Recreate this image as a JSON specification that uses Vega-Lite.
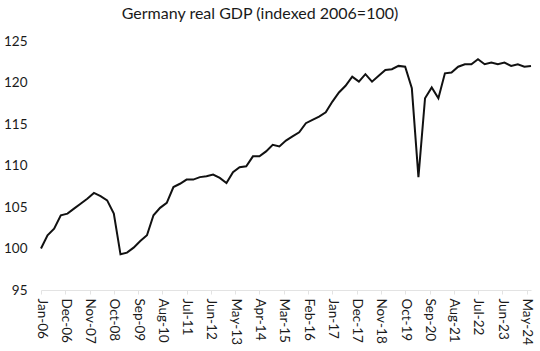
{
  "$schema": "https://vega.github.io/schema/vega-lite/v6.json",
  "width": 490,
  "height": 249,
  "autosize": "none",
  "padding": {"left": 41, "top": 41, "right": 9, "bottom": 61},
  "background": "white",
  "config": {"view": {"stroke": null}, "font": "Lato"},
  "title": {"text": "Germany real GDP (indexed 2006=100)", "font": "Lato", "fontSize": 16, "fontWeight": "normal", "color": "#1a1a1a", "anchor": "middle", "dx": -26, "offset": 12},
  "data": {"values": [
    {"date": "2006-01-01", "gdp": 100.0}, {"date": "2006-04-01", "gdp": 101.6}, {"date": "2006-07-01", "gdp": 102.4}, {"date": "2006-10-01", "gdp": 104.0},
    {"date": "2007-01-01", "gdp": 104.2}, {"date": "2007-04-01", "gdp": 104.8}, {"date": "2007-07-01", "gdp": 105.4}, {"date": "2007-10-01", "gdp": 106.0},
    {"date": "2008-01-01", "gdp": 106.7}, {"date": "2008-04-01", "gdp": 106.3}, {"date": "2008-07-01", "gdp": 105.8}, {"date": "2008-10-01", "gdp": 104.2},
    {"date": "2009-01-01", "gdp": 99.3}, {"date": "2009-04-01", "gdp": 99.5}, {"date": "2009-07-01", "gdp": 100.1}, {"date": "2009-10-01", "gdp": 100.9},
    {"date": "2010-01-01", "gdp": 101.6}, {"date": "2010-04-01", "gdp": 104.0}, {"date": "2010-07-01", "gdp": 104.9}, {"date": "2010-10-01", "gdp": 105.5},
    {"date": "2011-01-01", "gdp": 107.4}, {"date": "2011-04-01", "gdp": 107.8}, {"date": "2011-07-01", "gdp": 108.3}, {"date": "2011-10-01", "gdp": 108.3},
    {"date": "2012-01-01", "gdp": 108.6}, {"date": "2012-04-01", "gdp": 108.7}, {"date": "2012-07-01", "gdp": 108.9}, {"date": "2012-10-01", "gdp": 108.5},
    {"date": "2013-01-01", "gdp": 107.9}, {"date": "2013-04-01", "gdp": 109.2}, {"date": "2013-07-01", "gdp": 109.8}, {"date": "2013-10-01", "gdp": 109.9},
    {"date": "2014-01-01", "gdp": 111.1}, {"date": "2014-04-01", "gdp": 111.1}, {"date": "2014-07-01", "gdp": 111.7}, {"date": "2014-10-01", "gdp": 112.5},
    {"date": "2015-01-01", "gdp": 112.3}, {"date": "2015-04-01", "gdp": 113.0}, {"date": "2015-07-01", "gdp": 113.5}, {"date": "2015-10-01", "gdp": 114.0},
    {"date": "2016-01-01", "gdp": 115.1}, {"date": "2016-04-01", "gdp": 115.5}, {"date": "2016-07-01", "gdp": 115.9}, {"date": "2016-10-01", "gdp": 116.4},
    {"date": "2017-01-01", "gdp": 117.7}, {"date": "2017-04-01", "gdp": 118.8}, {"date": "2017-07-01", "gdp": 119.6}, {"date": "2017-10-01", "gdp": 120.7},
    {"date": "2018-01-01", "gdp": 120.1}, {"date": "2018-04-01", "gdp": 121.0}, {"date": "2018-07-01", "gdp": 120.1}, {"date": "2018-10-01", "gdp": 120.8},
    {"date": "2019-01-01", "gdp": 121.5}, {"date": "2019-04-01", "gdp": 121.6}, {"date": "2019-07-01", "gdp": 122.0}, {"date": "2019-10-01", "gdp": 121.9},
    {"date": "2020-01-01", "gdp": 119.3}, {"date": "2020-04-01", "gdp": 108.6}, {"date": "2020-07-01", "gdp": 118.1}, {"date": "2020-10-01", "gdp": 119.4},
    {"date": "2021-01-01", "gdp": 118.1}, {"date": "2021-04-01", "gdp": 121.1}, {"date": "2021-07-01", "gdp": 121.2}, {"date": "2021-10-01", "gdp": 121.9},
    {"date": "2022-01-01", "gdp": 122.2}, {"date": "2022-04-01", "gdp": 122.2}, {"date": "2022-07-01", "gdp": 122.8}, {"date": "2022-10-01", "gdp": 122.2},
    {"date": "2023-01-01", "gdp": 122.4}, {"date": "2023-04-01", "gdp": 122.2}, {"date": "2023-07-01", "gdp": 122.4}, {"date": "2023-10-01", "gdp": 122.0},
    {"date": "2024-01-01", "gdp": 122.2}, {"date": "2024-04-01", "gdp": 121.9}, {"date": "2024-07-01", "gdp": 122.0}
  ]},
  "mark": {"type": "line", "color": "#111111", "strokeWidth": 2, "strokeJoin": "miter"},
  "encoding": {
    "x": {
      "field": "date", "type": "temporal", "title": null,
      "scale": {"type": "utc", "domain": [{"year": 2006, "month": 1, "date": 1, "utc": true}, {"year": 2024, "month": 7, "date": 1, "utc": true}], "nice": false},
      "axis": {
        "values": [
          {"year": 2006, "month": 1, "date": 1, "utc": true}, {"year": 2006, "month": 12, "date": 1, "utc": true},
          {"year": 2007, "month": 11, "date": 1, "utc": true}, {"year": 2008, "month": 10, "date": 1, "utc": true},
          {"year": 2009, "month": 9, "date": 1, "utc": true}, {"year": 2010, "month": 8, "date": 1, "utc": true},
          {"year": 2011, "month": 7, "date": 1, "utc": true}, {"year": 2012, "month": 6, "date": 1, "utc": true},
          {"year": 2013, "month": 5, "date": 1, "utc": true}, {"year": 2014, "month": 4, "date": 1, "utc": true},
          {"year": 2015, "month": 3, "date": 1, "utc": true}, {"year": 2016, "month": 2, "date": 1, "utc": true},
          {"year": 2017, "month": 1, "date": 1, "utc": true}, {"year": 2017, "month": 12, "date": 1, "utc": true},
          {"year": 2018, "month": 11, "date": 1, "utc": true}, {"year": 2019, "month": 10, "date": 1, "utc": true},
          {"year": 2020, "month": 9, "date": 1, "utc": true}, {"year": 2021, "month": 8, "date": 1, "utc": true},
          {"year": 2022, "month": 7, "date": 1, "utc": true}, {"year": 2023, "month": 6, "date": 1, "utc": true},
          {"year": 2024, "month": 5, "date": 1, "utc": true}
        ],
        "format": "%b-%y",
        "labelAngle": 90,
        "labelAlign": "left",
        "labelBaseline": "middle",
        "labelFont": "Lato",
        "labelFontSize": 13.5,
        "labelColor": "#1a1a1a",
        "labelPadding": 4,
        "labelOverlap": false,
        "labelFlush": false,
        "domainColor": "#e3e3e3",
        "tickColor": "#e3e3e3",
        "tickSize": 4,
        "grid": false
      }
    },
    "y": {
      "field": "gdp", "type": "quantitative", "title": null,
      "scale": {"domain": [95, 125], "nice": false, "zero": false},
      "axis": {
        "values": [95, 100, 105, 110, 115, 120, 125],
        "domain": false, "ticks": false, "grid": false,
        "labelFont": "Lato", "labelFontSize": 13.5, "labelColor": "#1a1a1a",
        "labelPadding": 14
      }
    }
  }
}
